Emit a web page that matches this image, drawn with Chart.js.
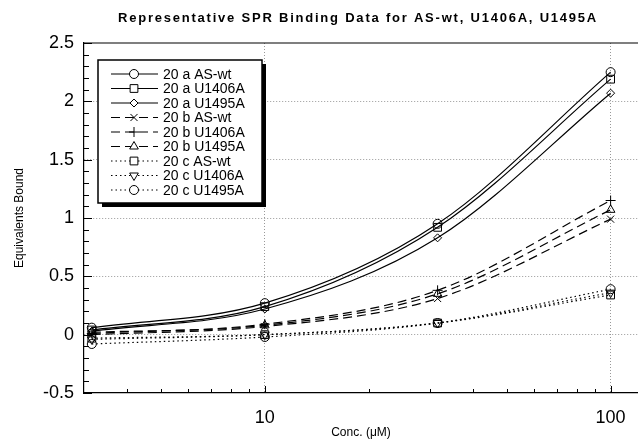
<!DOCTYPE html>
<html>
<head>
<meta charset="utf-8">
<title>SPR binding</title>
<script src="https://cdn.jsdelivr.net/npm/chart.js"></script>
<style>
  html, body { margin: 0; padding: 0; background: #fff; overflow: hidden; }
  canvas { display: block; }
</style>
</head>
<body>
<canvas id="sprChart" width="638" height="441"></canvas>
<script>
// concentrations (uM) and equivalents bound
const concs = [3.16, 10, 31.6, 100]
const aWt = [0.06, 0.27, 0.95, 2.25]
const aU1406A = [0.04, 0.24, 0.92, 2.19]
const aU1495A = [0.03, 0.22, 0.83, 2.07]
const bWt = [0.00, 0.07, 0.31, 0.99]
const bU1406A = [0.01, 0.09, 0.38, 1.15]
const bU1495A = [0.02, 0.08, 0.35, 1.07]
const cWt = [-0.03, 0.00, 0.10, 0.34]
const cU1406A = [-0.04, 0.00, 0.10, 0.36]
const cU1495A = [-0.08, -0.02, 0.10, 0.39]

const xTicks = [4, 5, 6, 7, 8, 9, 10, 20, 30, 40, 50, 60, 70, 80, 90, 100]
const xLabels = [10, 100]
const yLabels = [-0.5, 0, 0.5, 1, 1.5, 2, 2.5]

const FONT = '"Liberation Sans", Arial, Helvetica, sans-serif'
const SOLID = []
const DASHED = [9, 5]
const DOTTED = [1.5, 3]

const isLabelY = v => yLabels.some(l => Math.abs(l - v) < 1e-6)

function series(label, values, dash, pointStyle, radius, rotation) {
    return {
        label: label,
        data: concs.map((c, i) => ({ x: c, y: values[i] })),
        borderColor: '#000',
        borderWidth: 1.2,
        borderDash: dash,
        cubicInterpolationMode: 'monotone',
        pointStyle: pointStyle,
        pointRadius: radius,
        pointRotation: rotation || 0,
        pointBorderWidth: 1,
        pointBorderColor: '#000',
        pointBackgroundColor: 'rgba(0,0,0,0)',
        fill: false
    }
}

// title drawn with spaced letters like the original plot
const titlePlugin = {
    id: 'spacedTitle',
    afterDraw(chart) {
        const ctx = chart.ctx
        const text = 'Representative SPR Binding Data for AS-wt, U1406A, U1495A'
        ctx.save()
        ctx.font = 'bold 13px ' + FONT
        ctx.letterSpacing = '0px'
        const w0 = ctx.measureText(text).width
        const spacing = Math.max(0, (480 - w0) / text.length)
        ctx.letterSpacing = spacing.toFixed(2) + 'px'
        ctx.fillStyle = '#000'
        ctx.textAlign = 'center'
        ctx.textBaseline = 'middle'
        ctx.fillText(text, 358, 18)
        ctx.restore()
    }
}

// frame line on top and inward tick marks
const framePlugin = {
    id: 'frame',
    afterDraw(chart) {
        const ctx = chart.ctx
        const area = chart.chartArea
        const x = chart.scales.x
        const y = chart.scales.y
        ctx.save()
        ctx.strokeStyle = '#000'
        ctx.lineWidth = 1.2
        ctx.beginPath()
        ctx.moveTo(area.left, area.top)
        ctx.lineTo(area.right, area.top)
        ctx.stroke()
        ctx.lineWidth = 1
        ctx.beginPath()
        x.ticks.forEach(t => {
            const px = Math.round(x.getPixelForValue(t.value)) + 0.5
            const len = xLabels.includes(t.value) ? 7 : 4
            ctx.moveTo(px, area.bottom)
            ctx.lineTo(px, area.bottom - len)
        })
        y.ticks.forEach(t => {
            const py = Math.round(y.getPixelForValue(t.value)) + 0.5
            const len = isLabelY(t.value) ? 8 : 5
            ctx.moveTo(area.left, py)
            ctx.lineTo(area.left + len, py)
        })
        ctx.stroke()
        ctx.restore()
    }
}

// boxed legend with drop shadow, line sample + marker per series
const legendPlugin = {
    id: 'boxLegend',
    afterDraw(chart) {
        const ctx = chart.ctx
        const sets = chart.data.datasets
        const left = 98, top = 60, w = 164, h = 143
        ctx.save()
        ctx.fillStyle = '#000'
        ctx.fillRect(left + 4, top + 4, w, h)
        ctx.fillStyle = '#fff'
        ctx.fillRect(left, top, w, h)
        ctx.strokeStyle = '#000'
        ctx.lineWidth = 1.5
        ctx.strokeRect(left, top, w, h)
        ctx.font = '14px ' + FONT
        ctx.textBaseline = 'middle'
        sets.forEach((ds, i) => {
            const yy = top + 14 + i * 14.5
            ctx.strokeStyle = '#000'
            ctx.lineWidth = 1.2
            ctx.setLineDash(ds.borderDash)
            ctx.beginPath()
            ctx.moveTo(111, yy)
            ctx.lineTo(158, yy)
            ctx.stroke()
            ctx.setLineDash([])
            ctx.fillStyle = '#fff'
            ctx.lineWidth = 1
            Chart.helpers.drawPoint(ctx, {
                pointStyle: ds.pointStyle,
                radius: ds.pointRadius,
                rotation: ds.pointRotation,
                borderWidth: 1
            }, 134, yy)
            ctx.fillStyle = '#000'
            ctx.fillText(ds.label, 163, yy + 1)
        })
        ctx.restore()
    }
}

new Chart(document.getElementById('sprChart').getContext('2d'), {
    type: 'line',
    data: {
        datasets: [
            series('20 a AS-wt', aWt, SOLID, 'circle', 4.5),
            series('20 a U1406A', aU1406A, SOLID, 'rect', 5.5),
            series('20 a U1495A', aU1495A, SOLID, 'rectRot', 4),
            series('20 b AS-wt', bWt, DASHED, 'crossRot', 5),
            series('20 b U1406A', bU1406A, DASHED, 'cross', 5),
            series('20 b U1495A', bU1495A, DASHED, 'triangle', 5),
            series('20 c AS-wt', cWt, DOTTED, 'rect', 5.5),
            series('20 c U1406A', cU1406A, DOTTED, 'triangle', 5, 180),
            series('20 c U1495A', cU1495A, DOTTED, 'circle', 4.5)
        ]
    },
    options: {
        responsive: false,
        devicePixelRatio: 1,
        animation: false,
        layout: { autoPadding: false, padding: { left: 0, top: 43, right: 0, bottom: 0 } },
        plugins: {
            legend: { display: false },
            title: { display: false },
            tooltip: { enabled: false }
        },
        scales: {
            x: {
                type: 'logarithmic',
                min: 3,
                max: 120,
                afterBuildTicks: s => { s.ticks = xTicks.map(v => ({ value: v })) },
                afterFit: s => { s.height = 48; s.paddingRight = 0; s.paddingLeft = 0 },
                ticks: {
                    autoSkip: false,
                    maxRotation: 0,
                    padding: 14,
                    color: '#000',
                    font: { family: FONT, size: 18 },
                    callback: v => xLabels.includes(v) ? String(v) : ''
                },
                grid: {
                    drawTicks: false,
                    lineWidth: 1,
                    color: c => (c.tick && xLabels.includes(c.tick.value)) ? '#999' : 'rgba(0,0,0,0)'
                },
                border: { display: true, color: '#000', width: 1.2, dash: [1, 2] },
                title: {
                    display: true,
                    text: 'Conc. (\u03bcM)',
                    color: '#000',
                    font: { family: FONT, size: 12 },
                    padding: { top: 0, bottom: 1 }
                }
            },
            y: {
                min: -0.5,
                max: 2.5,
                afterFit: s => { s.width = 84 },
                ticks: {
                    stepSize: 0.1,
                    autoSkip: false,
                    padding: 10,
                    color: '#000',
                    font: { family: FONT, size: 18 },
                    callback: v => isLabelY(v) ? String(Math.round(v * 10) / 10) : ''
                },
                grid: {
                    drawTicks: false,
                    lineWidth: 1,
                    color: c => (c.tick && isLabelY(c.tick.value) && c.tick.value > -0.4 && c.tick.value < 2.4) ? '#999' : 'rgba(0,0,0,0)'
                },
                border: { display: true, color: '#000', width: 1.2, dash: [1, 2] },
                title: {
                    display: true,
                    text: 'Equivalents Bound',
                    color: '#000',
                    font: { family: FONT, size: 12 },
                    padding: { top: 12, bottom: 0 }
                }
            }
        }
    },
    plugins: [framePlugin, legendPlugin, titlePlugin]
});
</script>
</body>
</html>
